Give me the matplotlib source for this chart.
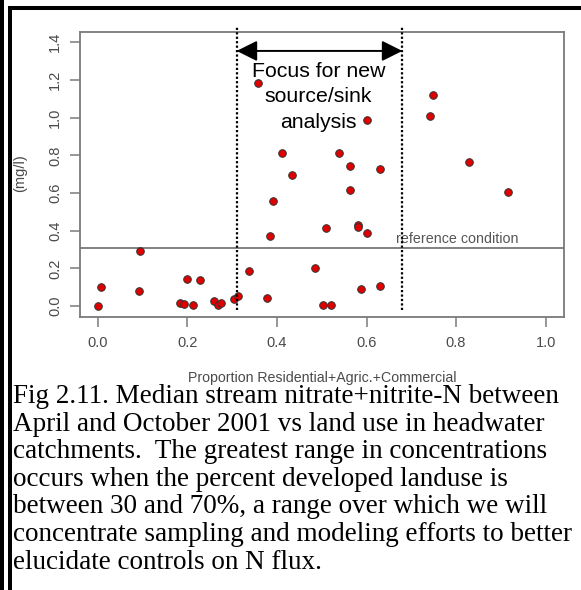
import matplotlib
matplotlib.use("Agg")
import matplotlib.pyplot as plt
from matplotlib.patches import Rectangle

# ---- data ----
land_use = [0.001, 0.007, 0.093, 0.091, 0.184, 0.192, 0.198, 0.227, 0.212, 0.260,
            0.268, 0.275, 0.303, 0.312, 0.338, 0.377, 0.384, 0.391,
            0.509, 0.581, 0.581, 0.602, 0.486, 0.588, 0.629, 0.502, 0.521, 0.563,
            0.358, 0.602, 0.412, 0.538, 0.562, 0.630, 0.434,
            0.749, 0.742, 0.828, 0.916]
nitrate = [0.002, 0.104, 0.295, 0.081, 0.018, 0.011, 0.145, 0.138, 0.004, 0.028,
           0.004, 0.019, 0.039, 0.056, 0.189, 0.041, 0.374, 0.556,
           0.414, 0.432, 0.420, 0.390, 0.203, 0.090, 0.106, 0.004, 0.004, 0.617,
           1.184, 0.988, 0.815, 0.815, 0.741, 0.726, 0.698,
           1.118, 1.009, 0.765, 0.605]
reference_level = 0.31
focus_range = [0.31, 0.68]
x_ticks = [0.0, 0.2, 0.4, 0.6, 0.8, 1.0]
y_ticks = [0.0, 0.2, 0.4, 0.6, 0.8, 1.0, 1.2, 1.4]
focus_label = "Focus for new\nsource/sink\nanalysis"
reference_label = "reference condition"
x_label = "Proportion Residential+Agric.+Commercial"
y_label = "(mg/l)"
caption_lines = [
    "Fig 2.11. Median stream nitrate+nitrite-N between",
    "April and October 2001 vs land use in headwater",
    "catchments.  The greatest range in concentrations",
    "occurs when the percent developed landuse is",
    "between 30 and 70%, a range over which we will",
    "concentrate sampling and modeling efforts to better",
    "elucidate controls on N flux.",
]

W, H = 581, 590
fig = plt.figure(figsize=(W / 100, H / 100), dpi=100)
fig.patch.set_facecolor("white")

def fx(px):
    return px / W

def fy(py):
    return 1 - py / H

ax = fig.add_axes([fx(80), fy(316.7), fx(563.5) - fx(80), fy(31.7) - fy(316.7)])
ax.set_xlim(-0.04, 1.04)
ax.set_ylim(-0.056, 1.456)

sans = "Liberation Sans"
axis_grey = "#7a7a7a"
text_grey = "#4a4a4a"

for s in ax.spines.values():
    s.set_color(axis_grey)
    s.set_linewidth(1.3)

ax.set_xticks(x_ticks)
ax.set_yticks(y_ticks)
ax.set_xticklabels([f"{t:.1f}" for t in x_ticks], fontfamily=sans, fontsize=10.5, color=text_grey)
ax.set_yticklabels([f"{t:.1f}" for t in y_ticks], fontfamily=sans, fontsize=10.5, color=text_grey,
                   rotation=90, va="center")
ax.tick_params(axis="x", length=7, width=1.1, color=axis_grey, pad=7)
ax.tick_params(axis="y", length=7, width=1.1, color=axis_grey, pad=6)

# reference line
ax.axhline(reference_level, color="#777777", lw=1.3, zorder=1)
ax.text(0.665, reference_level + 0.008, reference_label, fontfamily=sans, fontsize=10.3,
        color="#555555", ha="left", va="bottom", zorder=2)

# points
ax.scatter(land_use, nitrate, s=30, c="#e00000", edgecolors="#333333", linewidths=0.7, zorder=3)

# focus range dotted lines and arrow (extend above axes)
for xv in focus_range:
    ax.plot([xv, xv], [-0.021, 1.487], color="black", lw=1.6, ls=(0, (1, 1)),
            clip_on=False, zorder=4)
ax.annotate("", xy=(focus_range[0], 1.354), xytext=(focus_range[1], 1.354),
            arrowprops=dict(arrowstyle="<|-|>,head_length=1.0,head_width=0.5", color="black", lw=1.4,
                            mutation_scale=12.5, shrinkA=0, shrinkB=0),
            annotation_clip=False, zorder=5)
ax.text(0.493, 1.295, focus_label, fontfamily=sans, fontsize=15.3, color="black",
        ha="center", va="top", linespacing=1.42, zorder=5)

# axis labels
fig.text(fx(322), fy(378), x_label, fontfamily=sans, fontsize=10.2, color=text_grey,
         ha="center", va="center")
fig.text(fx(20), fy(173), y_label, fontfamily=sans, fontsize=10.5, color=text_grey,
         ha="center", va="center", rotation=90)

# caption
baseline0 = 403
step = 27.6
for i, line in enumerate(caption_lines):
    fig.text(fx(13), fy(baseline0 + i * step), line, fontfamily="Liberation Serif",
             fontsize=19.5, color="black", ha="left", va="baseline")

# frame bars
fig.patches.append(Rectangle((0, 0), fx(3.5), 1, transform=fig.transFigure,
                             facecolor="black", edgecolor="none"))
fig.patches.append(Rectangle((fx(8), 0), fx(3.5), fy(6), transform=fig.transFigure,
                             facecolor="black", edgecolor="none"))
fig.patches.append(Rectangle((fx(8), fy(10)), 1 - fx(8), fy(6) - fy(10), transform=fig.transFigure,
                             facecolor="black", edgecolor="none"))

fig.savefig("out.png", dpi=100)
